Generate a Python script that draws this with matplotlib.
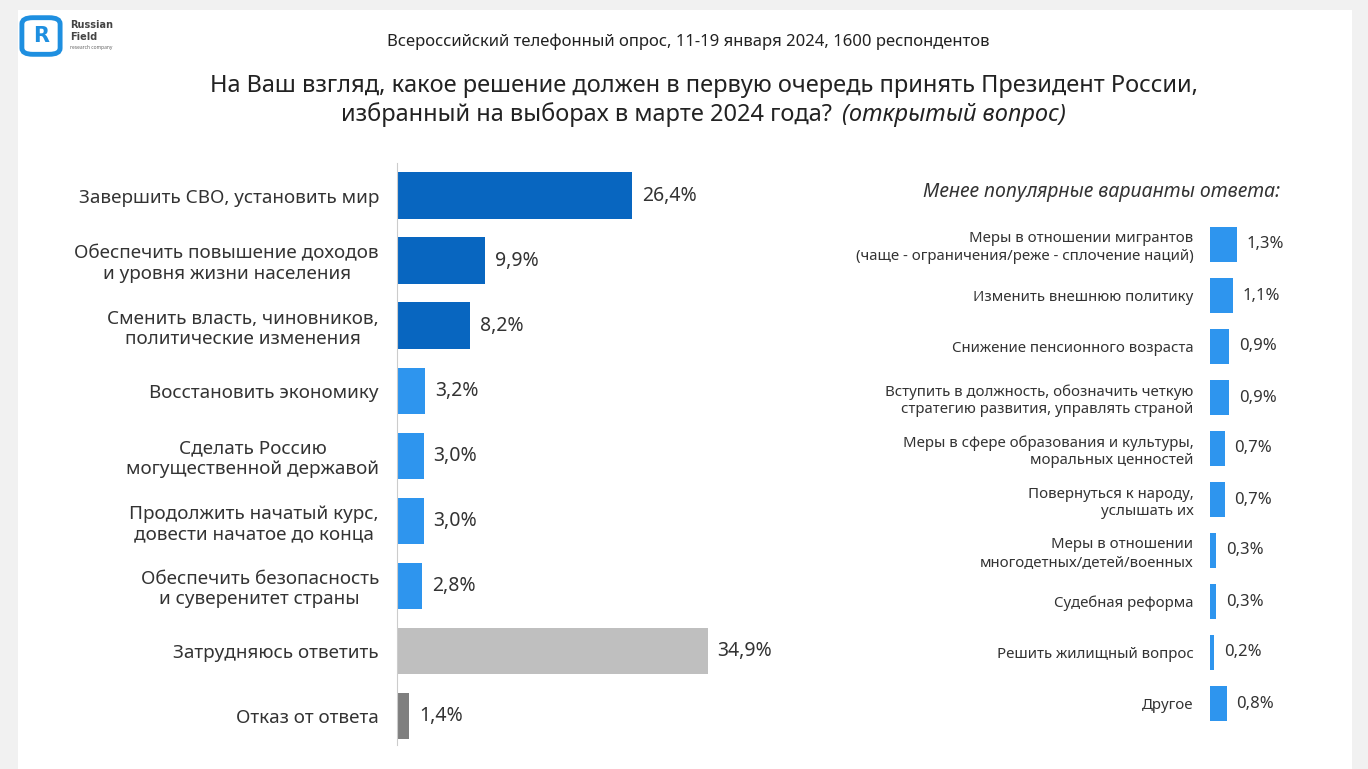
import matplotlib.pyplot as plt
from matplotlib.patches import Rectangle, FancyBboxPatch

plt.rcParams['font.family'] = ['Noto Sans', 'DejaVu Sans']

# основные ответы
main_labels = [
    "Завершить СВО, установить мир",
    "Обеспечить повышение доходов\nи уровня жизни населения",
    "Сменить власть, чиновников,\nполитические изменения",
    "Восстановить экономику",
    "Сделать Россию\nмогущественной державой",
    "Продолжить начатый курс,\nдовести начатое до конца",
    "Обеспечить безопасность\nи суверенитет страны",
    "Затрудняюсь ответить",
    "Отказ от ответа",
]
main_values = [26.4, 9.9, 8.2, 3.2, 3.0, 3.0, 2.8, 34.9, 1.4]
main_colors = ["#0866c0", "#0866c0", "#0866c0", "#2e95ee", "#2e95ee",
               "#2e95ee", "#2e95ee", "#bfbfbf", "#7f7f7f"]

# менее популярные ответы
minor_labels = [
    "Меры в отношении мигрантов\n(чаще - ограничения/реже - сплочение наций)",
    "Изменить внешнюю политику",
    "Снижение пенсионного возраста",
    "Вступить в должность, обозначить четкую\nстратегию развития, управлять страной",
    "Меры в сфере образования и культуры,\nморальных ценностей",
    "Повернуться к народу,\nуслышать их",
    "Меры в отношении\nмногодетных/детей/военных",
    "Судебная реформа",
    "Решить жилищный вопрос",
    "Другое",
]
minor_values = [1.3, 1.1, 0.9, 0.9, 0.7, 0.7, 0.3, 0.3, 0.2, 0.8]

text_color = "#333333"

def fmt(v):
    return f"{v:.1f}".replace(".", ",") + "%"

fig = plt.figure(figsize=(13.68, 7.69), dpi=100)
fig.patch.set_facecolor("#f1f1f1")
fig.patches.append(Rectangle((18 / 1368, 0), 1334 / 1368, 759 / 769,
                             transform=fig.transFigure, facecolor="white",
                             edgecolor="none", zorder=-5))

# логотип
fig.patches.append(FancyBboxPatch((26 / 1368, 1 - 52 / 769), 30 / 1368, 32 / 769,
                                  boxstyle="round,pad=0.003,rounding_size=0.008",
                                  transform=fig.transFigure, facecolor="none",
                                  edgecolor="#1e8fe0", linewidth=3.5))
fig.text(41 / 1368, 1 - 36 / 769, "R", color="#1e8fe0", fontsize=15,
         fontweight="bold", ha="center", va="center", family="DejaVu Sans")
fig.text(70 / 1368, 1 - 31 / 769, "Russian\nField", color="#444444", fontsize=7,
         fontweight="bold", ha="left", va="center", linespacing=1.2,
         family="DejaVu Sans")
fig.text(70 / 1368, 1 - 48 / 769, "research company", color="#666666", fontsize=3.5,
         ha="left", va="center")

# заголовки
fig.text(688 / 1368, 1 - 42 / 769,
         "Всероссийский телефонный опрос, 11-19 января 2024, 1600 респондентов",
         fontsize=12, color="#222222", ha="center", va="center")
fig.text(704 / 1368, 1 - 86 / 769,
         "На Ваш взгляд, какое решение должен в первую очередь принять Президент России,",
         fontsize=17, color="#222222", ha="center", va="center")
fig.text(838 / 1368, 1 - 115 / 769,
         "избранный на выборах в марте 2024 года? ",
         fontsize=17, color="#222222", ha="right", va="center")
fig.text(842 / 1368, 1 - 115 / 769, "(открытый вопрос)",
         fontsize=17, color="#222222", ha="left", va="center", style="italic")
fig.text(1280 / 1368, 1 - 192 / 769, "Менее популярные варианты ответа:",
         fontsize=14, color="#333333", ha="right", va="center", style="italic")

# левая диаграмма
ax = fig.add_axes([397 / 1368, 24 / 769, 356 / 1368, 582 / 769])
y = range(len(main_values))
ax.barh(y, main_values, height=0.71, color=main_colors)
for i, v in enumerate(main_values):
    ax.text(v + 1.1, i, fmt(v), va="center", ha="left", fontsize=14, color=text_color)
ax.set_xlim(0, 40)
ax.set_ylim(8.45, -0.5)
ax.set_yticks(list(y))
ax.set_yticklabels(main_labels, fontsize=13.6, color=text_color)
for lab in ax.get_yticklabels():
    lab.set_multialignment("center")
ax.tick_params(axis="y", length=0, pad=13)
ax.set_xticks([])
for s in ["top", "right", "bottom"]:
    ax.spines[s].set_visible(False)
ax.spines["left"].set_color("#cccccc")
ax.set_facecolor("none")

# правая диаграмма
ax2 = fig.add_axes([1210 / 1368, 40 / 769, 104 / 1368, 510 / 769])
y2 = range(len(minor_values))
ax2.barh(y2, minor_values, height=0.7, color="#2e95ee")
for i, v in enumerate(minor_values):
    ax2.text(v + 0.48, i, fmt(v), va="center", ha="left", fontsize=12, color=text_color)
ax2.set_xlim(0, 5)
ax2.set_ylim(9.5, -0.5)
ax2.set_yticks(list(y2))
ax2.set_yticklabels(minor_labels, fontsize=10.8, color=text_color)
ax2.tick_params(axis="y", length=0, pad=12)
ax2.set_xticks([])
for s in ax2.spines.values():
    s.set_visible(False)
ax2.set_facecolor("none")

fig.savefig("out.png", dpi=100)
